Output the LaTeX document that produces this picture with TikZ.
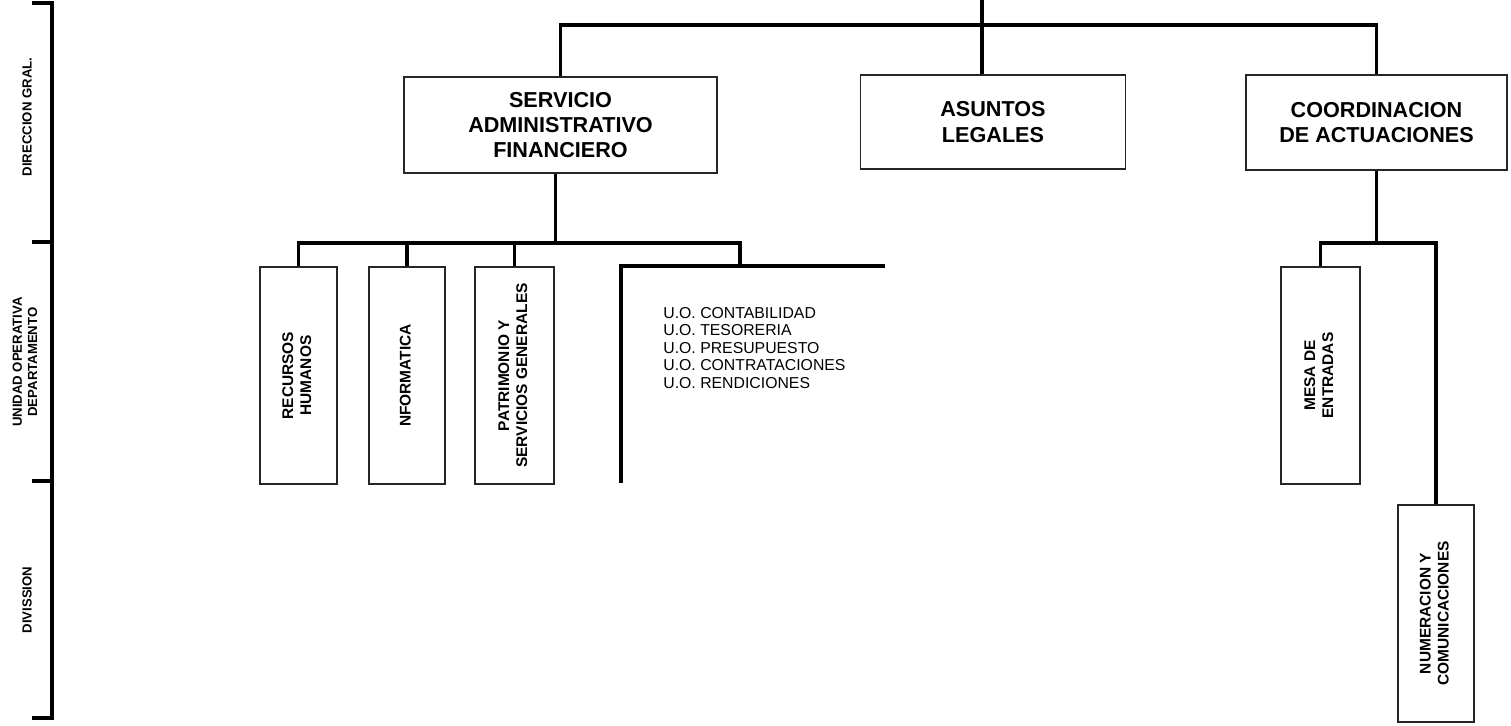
\documentclass[tikz,border=0pt]{standalone}
\usepackage{fontspec}
\setmainfont{Liberation Sans}

% rotated, centred lines inside the tall boxes
\newcommand{\vtext}[1]{\rotatebox{90}{\begin{tabular}{@{}c@{}}#1\end{tabular}}}

\begin{document}
\begin{tikzpicture}[
                x=0.02cm, y=-0.02cm,
                box/.style={
                  draw=black!85,
                  line width=1pt,
                  align=center,
                  inner sep=0pt,
                  font=\fontsize{12.3}{14.4}\selectfont\bfseries,
                },
                vbox/.style={
                  draw=black!85,
                  line width=1pt,
                  inner sep=0pt,
                  minimum height=4.34cm,
                  font=\fontsize{8.8}{10.3}\selectfont\bfseries,
                },
                link/.style={line width=1.8pt},
                side/.style={
                  rotate=90,
                  align=center,
                  inner sep=0pt,
                  font=\fontsize{7.5}{8.6}\selectfont\bfseries,
                },
              ]
              \useasboundingbox (0,0) rectangle (1511,725);
              % level scale on the left
              \draw[link] (32,3) -| (52,718) -- (32,718);
              \foreach \y in {242,481}
                \draw[link] (32,\y) -- (52,\y);
              \node[side] (dirgral) at (27,117) {DIRECCION GRAL.};
              \node[side] (unidad) at (25,362) {UNIDAD OPERATIVA\\DEPARTAMENTO};
              \node[side] (division) at (27,600) {DIVISSION};
              % first level
              \node[box, minimum width=6.26cm, minimum height=1.92cm] (saf) at (560.5,125) {SERVICIO\\ADMINISTRATIVO\\FINANCIERO};
              \node[box, minimum width=5.3cm, minimum height=1.88cm] (legales) at (993,122) {ASUNTOS\\LEGALES};
              \node[box, minimum width=5.22cm, minimum height=1.9cm] (coord) at (1376.5,122.5) {COORDINACION\\DE ACTUACIONES};
              \coordinate (top) at (982,0);
              \coordinate (bus) at (982,25);
              \draw[link] (top) -- (top |- legales.north);
              \draw[link] (saf.north) |- (bus) -| (coord.north);
              % second level
              \node[vbox, minimum width=1.54cm] (rrhh) at (298.5,375.5) {\vtext{RECURSOS\\HUMANOS}};
              \node[vbox, minimum width=1.52cm] (informatica) at (407,375.5) {\vtext{NFORMATICA}};
              \node[vbox, minimum width=1.58cm] (patrimonio) at (514.5,375.5) {\vtext{PATRIMONIO Y\\SERVICIOS GENERALES}};
              \node[vbox, minimum width=1.58cm] (mesa) at (1320.5,375.5) {\vtext{MESA DE\\ENTRADAS}};
              \node[vbox, minimum width=1.52cm] (numeracion) at (1436,613.5) {\vtext{NUMERACION Y\\COMUNICACIONES}};
              \coordinate (safbus) at (740,243);
              \coordinate (uo) at (740,266);
              \coordinate (uoleft) at (621,483);
              \coordinate (uoright) at (885,266);
              \draw[link] ([xshift=-0.1cm]saf.south) -- ([xshift=-0.1cm]saf.south |- safbus);
              \draw[link] (rrhh.north) |- (safbus) -- (uo);
              \draw[link] (informatica.north) -- (informatica.north |- safbus);
              \draw[link] (patrimonio.north) -- (patrimonio.north |- safbus);
              \draw[link] (uoleft) |- (uoright);
              \node[anchor=north west, align=left, inner sep=0pt, font=\fontsize{9}{9.96}\selectfont] (uolist) at (663,307)
                {U.O. CONTABILIDAD\\U.O. TESORERIA\\U.O. PRESUPUESTO\\U.O. CONTRATACIONES\\U.O. RENDICIONES};
              \coordinate (cbus) at (1436,243);
              \draw[link] (coord.south) -- (coord.south |- cbus);
              \draw[link] (mesa.north) |- (cbus) -- (numeracion.north);
              \end{tikzpicture}
\end{document}
